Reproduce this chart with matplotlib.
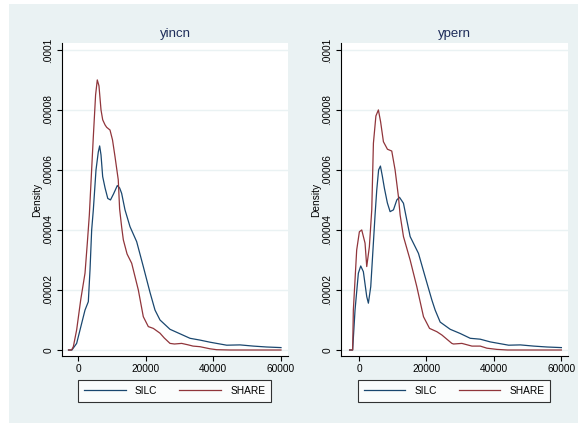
import matplotlib
matplotlib.use("Agg")
import matplotlib.pyplot as plt
from matplotlib.patches import Rectangle

# ------------------------- Data -------------------------
panels = ["yincn", "ypern"]
series_names = ["SILC", "SHARE"]

yincn_silc_x = [-2800, -1800, -400, 1090, 2070, 3050, 3550, 4040, 4530, 5320, 6000, 6400, 6800, 7290,
                8000, 8800, 9600, 10500, 11620, 12300, 12900, 13890, 15370, 17340, 19300, 21280,
                22760, 24240, 27190, 30150, 33100, 36060, 39010, 43950, 47880, 51820, 55760, 60000]
yincn_silc_y = [0, 0, 0.0000022, 0.0000089, 0.0000133, 0.0000161, 0.0000267, 0.00004, 0.0000467,
                0.00006, 0.000066, 0.000068, 0.000065, 0.0000578, 0.000054, 0.0000505, 0.00005,
                0.000052, 0.0000548, 0.000054, 0.0000522, 0.0000467, 0.0000411, 0.0000361,
                0.0000278, 0.0000192, 0.0000133, 0.00001, 0.0000069, 0.0000054, 0.0000039,
                0.0000033, 0.0000026, 0.0000016, 0.0000017, 0.0000013, 0.000001, 0.0000008]

yincn_share_x = [-2800, -1900, -1380, -400, 800, 2070, 2750, 3350, 4530, 5200, 5700, 6200, 6800, 7300,
                 8000, 8480, 9460, 10200, 10940, 11900, 12300, 12900, 13400, 14500, 15870, 17830,
                 19300, 20780, 22260, 24240, 25500, 27190, 28500, 30640, 32610, 34000, 36060,
                 39010, 41000, 45000, 60000]
yincn_share_y = [0, 0, 0.0000011, 0.0000067, 0.0000167, 0.0000256, 0.0000356, 0.000045, 0.0000711,
                 0.000085, 0.00009, 0.000088, 0.00008, 0.0000767, 0.000075, 0.0000742, 0.0000733,
                 0.00007, 0.0000644, 0.0000567, 0.000047, 0.000041, 0.0000367, 0.000032,
                 0.0000289, 0.00002, 0.0000111, 0.0000078, 0.0000072, 0.0000056, 0.000004,
                 0.0000022, 0.000002, 0.0000022, 0.0000017, 0.0000013, 0.0000011, 0.0000004,
                 0.0000001, 0, 0]

ypern_silc_x = [-2800, -1900, -1190, -200, 500, 1280, 2280, 2770, 3470, 4250, 4750, 5250, 5800, 6340,
                6900, 7520, 8400, 9210, 10200, 11200, 11980, 13170, 14160, 15150, 17620, 19600,
                21580, 22570, 24060, 27030, 30000, 32970, 35940, 38910, 44360, 47820, 51780,
                55740, 60000]
ypern_silc_y = [0, 0, 0.0000133, 0.0000256, 0.000028, 0.0000261, 0.0000178, 0.0000156, 0.0000211,
                0.0000356, 0.000045, 0.0000533, 0.00006, 0.0000613, 0.000058, 0.0000539, 0.000049,
                0.0000461, 0.0000467, 0.00005, 0.0000509, 0.0000489, 0.0000433, 0.0000378,
                0.0000322, 0.0000244, 0.0000167, 0.0000133, 0.0000093, 0.0000069, 0.0000055,
                0.0000039, 0.0000036, 0.0000027, 0.0000016, 0.0000017, 0.0000013, 0.000001,
                0.0000008]

ypern_share_x = [-2800, -1900, -1690, -700, 100, 800, 1780, 2280, 3060, 3770, 4260, 5000, 5740, 6400,
                 7230, 8420, 9700, 10690, 11680, 12180, 13170, 15150, 17130, 19110, 20900, 23070,
                 24560, 27520, 28020, 30500, 33470, 35940, 37920, 40890, 44000, 60000]
ypern_share_y = [0, 0, 0.0000133, 0.0000333, 0.0000394, 0.00004, 0.0000356, 0.0000278, 0.0000344,
                 0.0000467, 0.0000689, 0.000078, 0.00008, 0.000076, 0.0000694, 0.0000669,
                 0.0000663, 0.00006, 0.0000511, 0.000045, 0.0000378, 0.00003, 0.0000211,
                 0.0000111, 0.0000072, 0.0000061, 0.000005, 0.0000022, 0.000002, 0.0000022,
                 0.0000013, 0.0000013, 0.0000006, 0.0000002, 0, 0]

x_ticks = [0, 20000, 40000, 60000]
x_tick_labels = ["0", "20000", "40000", "60000"]
y_ticks = [0, 0.00002, 0.00004, 0.00006, 0.00008, 0.0001]
y_tick_labels = ["0", ".00002", ".00004", ".00006", ".00008", ".0001"]

# ------------------------- Style -------------------------
BG = "#EAF2F3"
NAVY = "#1A476F"
MAROON = "#90353B"
TITLE_COL = "#1E2D5A"
plt.rcParams["font.family"] = ["Liberation Sans", "DejaVu Sans"]

W, H = 578, 423
fig = plt.figure(figsize=(W / 100, H / 100), dpi=100, facecolor="white")
bg_ax = fig.add_axes([9 / W, 0, 1 - 9 / W, 1 - 4 / H], zorder=-10)
bg_ax.set_facecolor(BG)
bg_ax.set_xticks([])
bg_ax.set_yticks([])
for s in bg_ax.spines.values():
    s.set_visible(False)

panel_data = {
    "yincn": [(yincn_silc_x, yincn_silc_y), (yincn_share_x, yincn_share_y)],
    "ypern": [(ypern_silc_x, ypern_silc_y), (ypern_share_x, ypern_share_y)],
}
# pixel boxes: left, top, right, bottom, xlim
boxes = {
    "yincn": (62, 43, 288, 356, (-4730, 62070)),
    "ypern": (341, 43, 568, 356, (-5350, 61960)),
}

for name in panels:
    l, t, r, b, xlim = boxes[name]
    ax = fig.add_axes([l / W, (H - b) / H, (r - l) / W, (b - t) / H])
    ax.set_facecolor("white")
    for (xs, ys), nm, col in zip(panel_data[name], series_names, [NAVY, MAROON]):
        ax.plot(xs, ys, color=col, lw=0.9, label=nm)
    ax.set_xlim(*xlim)
    ax.set_ylim(-0.000002, 0.0001023)
    ax.set_xticks(x_ticks)
    ax.set_xticklabels(x_tick_labels, fontsize=7.3)
    ax.set_yticks(y_ticks)
    ax.set_yticklabels(y_tick_labels, fontsize=7.3, rotation=90, va="center")
    ax.tick_params(length=3.6, width=0.8, pad=2.5, color="black")
    ax.grid(axis="y", color=BG, lw=1.0)
    ax.set_axisbelow(True)
    for s in ["top", "right"]:
        ax.spines[s].set_visible(False)
    for s in ["left", "bottom"]:
        ax.spines[s].set_linewidth(0.8)
        ax.spines[s].set_color("black")
    ax.set_ylabel("Density", fontsize=7.3, labelpad=1)
    ax.set_title(name, fontsize=9.5, color=TITLE_COL, pad=4)
    leg = ax.legend(loc="upper center", bbox_to_anchor=(0.498, -0.078), ncol=2,
                    fontsize=7.3, frameon=True, fancybox=False, edgecolor="black",
                    handlelength=4.1, handletextpad=0.9, columnspacing=2.2,
                    borderpad=0.55, borderaxespad=0)
    leg.get_frame().set_linewidth(0.8)
    for h in leg.get_lines():
        h.set_linewidth(0.9)

fig.savefig("out.png", dpi=100, facecolor="white")
